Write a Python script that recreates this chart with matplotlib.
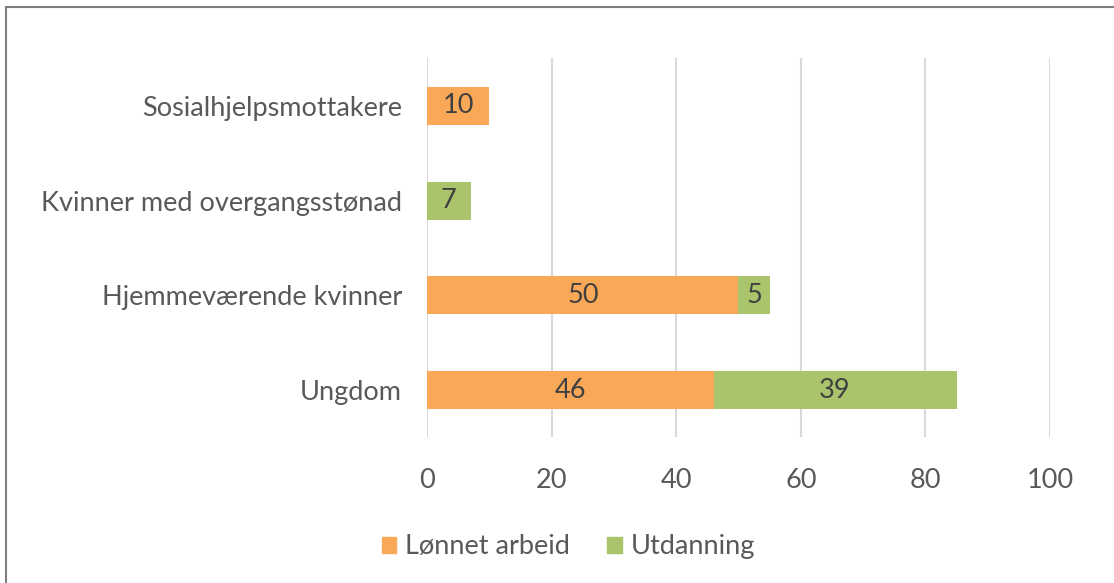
import numpy as np
import matplotlib.pyplot as plt
from matplotlib.patches import Rectangle, Patch

categories = ['Ungdom', 'Hjemmeværende kvinner', 'Kvinner med overgangsstønad', 'Sosialhjelpsmottakere']
lonnet = [46, 50, 0, 10]
utdanning = [39, 5, 7, 0]
series_names = ['Lønnet arbeid', 'Utdanning']
xticks = [0, 20, 40, 60, 80, 100]

orange = '#F9A857'
green = '#A9C46B'
gray = '#595959'
fs = 19.5

plt.rcParams['font.family'] = ['Lato', 'DejaVu Sans']

fig = plt.figure(figsize=(11.14, 5.83), dpi=100)
ax = fig.add_axes([0.3833, 0.2496, 0.5592, 0.6501])

y = np.arange(len(categories))
ax.barh(y, lonnet, height=0.4, color=orange, zorder=3)
ax.barh(y, utdanning, left=lonnet, height=0.4, color=green, zorder=3)

for i in range(len(categories)):
    if lonnet[i] > 0:
        ax.text(lonnet[i] / 2, y[i], str(lonnet[i]), ha='center', va='center',
                fontsize=fs, color='#404040', zorder=4)
    if utdanning[i] > 0:
        ax.text(lonnet[i] + utdanning[i] / 2, y[i], str(utdanning[i]), ha='center',
                va='center', fontsize=fs, color='#404040', zorder=4)

ax.set_xlim(0, 100)
ax.set_ylim(-0.5, 3.5)
ax.set_xticks(xticks)
ax.set_yticks(y)
ax.set_yticklabels(categories)
ax.grid(axis='x', color='#D9D9D9', linewidth=1.5, zorder=0)
for s in ax.spines.values():
    s.set_visible(False)
ax.tick_params(axis='both', length=0, labelsize=fs, labelcolor=gray)
ax.tick_params(axis='x', pad=22)
ax.tick_params(axis='y', pad=18)

handles = [Patch(color=orange), Patch(color=green)]
fig.legend(handles, series_names, loc='center', bbox_to_anchor=(0.51, 0.062), ncol=2,
           frameon=False, fontsize=fs, labelcolor=gray, handlelength=0.55,
           handleheight=0.55, handletextpad=0.3, columnspacing=1.4)

fig.patches.append(Rectangle((6 / 1114, -0.1), 1.2, 1 - 7 / 583 + 0.1,
                             transform=fig.transFigure, fill=False,
                             edgecolor='#7F7F7F', linewidth=1.5))

fig.savefig('out.png', dpi=100)
